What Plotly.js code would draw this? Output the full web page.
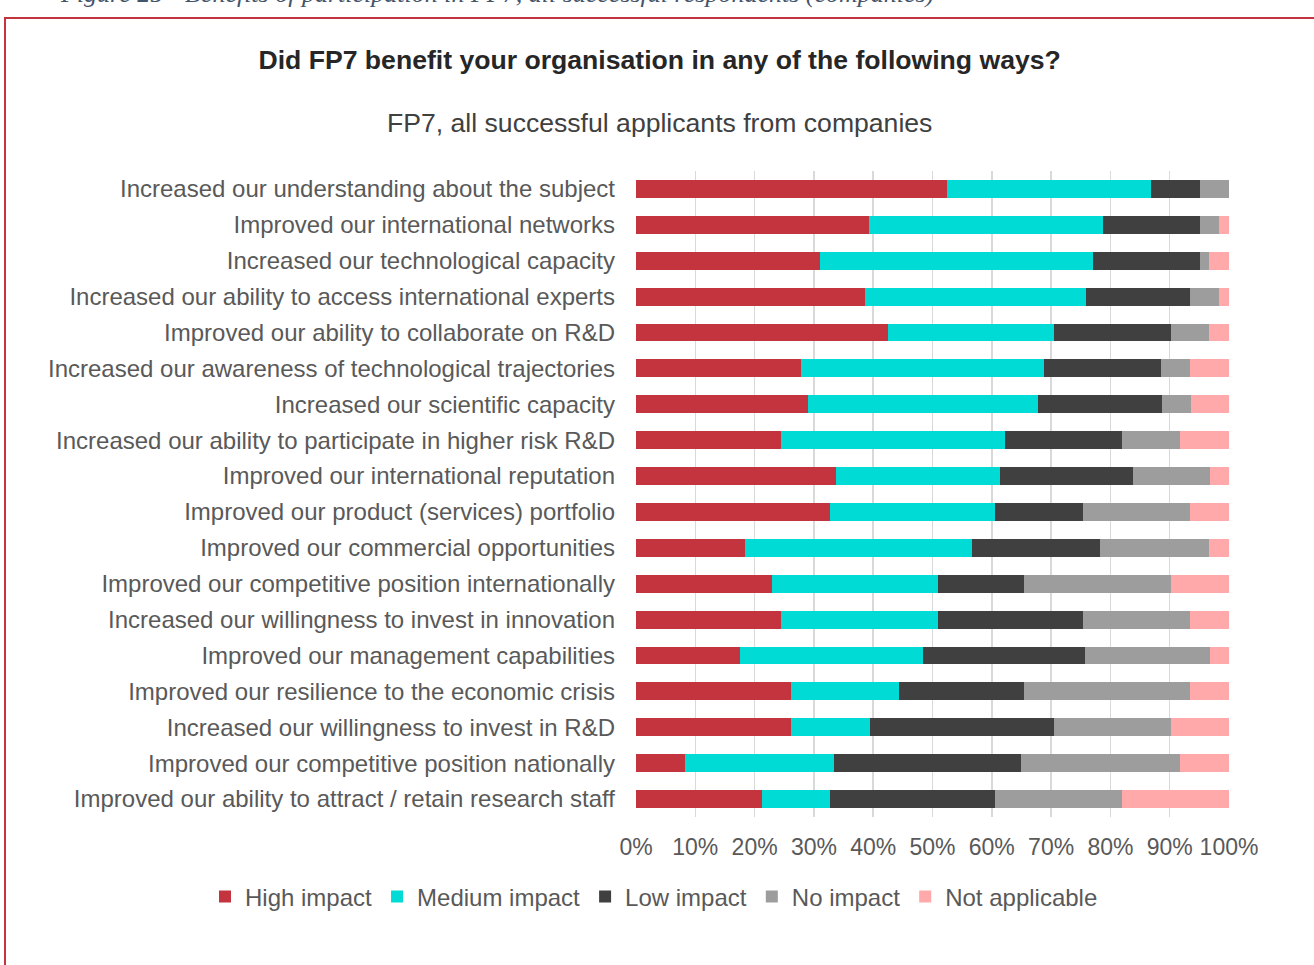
<!DOCTYPE html>
<html>
<head>
<meta charset="utf-8">
<script src="https://cdn.plot.ly/plotly-3.0.1.min.js"></script>
<style>
  html, body { margin: 0; padding: 0; background: #fff; overflow: hidden; }
  #frame { position: absolute; left: 4px; top: 17px; width: 1400px; height: 1100px; border: 2px solid #C4343F; box-sizing: border-box; }
  #chart { position: absolute; left: 0; top: 0; width: 1314px; height: 965px; }
</style>
</head>
<body>
<div id="frame"></div>
<div id="chart"></div>
<script>
const categories = [
  "Increased our understanding about the subject",
  "Improved our international networks",
  "Increased our technological capacity",
  "Increased our ability to access international experts",
  "Improved our ability to collaborate on R&D",
  "Increased our awareness of technological trajectories",
  "Increased our scientific capacity",
  "Increased our ability to participate in higher risk R&D",
  "Improved our international reputation",
  "Improved our product (services) portfolio",
  "Improved our commercial opportunities",
  "Improved our competitive position internationally",
  "Increased our willingness to invest in innovation",
  "Improved our management capabilities",
  "Improved our resilience to the economic crisis",
  "Increased our willingness to invest in R&D",
  "Improved our competitive position nationally",
  "Improved our ability to attract / retain research staff"
];
const highImpact   = [52.5, 39.3, 31.1, 38.7, 42.5, 27.9, 29.0, 24.5, 33.8, 32.7, 18.3, 22.9, 24.5, 17.6, 26.1, 26.1,  8.3, 21.3];
const mediumImpact = [34.4, 39.5, 46.0, 37.2, 28.0, 40.9, 38.8, 37.8, 27.5, 27.9, 38.4, 28.0, 26.4, 30.8, 18.2, 13.3, 25.1, 11.4];
const lowImpact    = [ 8.2, 16.3, 18.0, 17.6, 19.7, 19.7, 20.9, 19.7, 22.5, 14.8, 21.6, 14.6, 24.5, 27.3, 21.2, 31.1, 31.5, 27.8];
const noImpact     = [ 4.9,  3.2,  1.6,  4.8,  6.5,  5.0,  4.9,  9.7, 13.0, 18.1, 18.4, 24.7, 18.1, 21.1, 28.0, 19.7, 26.8, 21.5];
const notApplicable= [ 0.0,  1.7,  3.3,  1.7,  3.3,  6.5,  6.4,  8.3,  3.2,  6.5,  3.3,  9.8,  6.5,  3.2,  6.5,  9.8,  8.3, 18.0];
const seriesNames = ["High impact", "Medium impact", "Low impact", "No impact", "Not applicable"];
const xTickVals = [0,10,20,30,40,50,60,70,80,90,100];
const xTickText = ["0%","10%","20%","30%","40%","50%","60%","70%","80%","90%","100%"];

const colors = ["#C4343F", "#00DBD6", "#404040", "#9D9D9D", "#FFA9AB"];
const seriesData = [highImpact, mediumImpact, lowImpact, noImpact, notApplicable];

const traces = seriesData.map((vals, i) => ({
  type: "bar",
  orientation: "h",
  name: seriesNames[i],
  y: categories,
  x: vals,
  marker: { color: colors[i], line: { width: 0 } },
  hoverinfo: "x+y+name"
}));

const layout = {
  width: 1314,
  height: 965,
  paper_bgcolor: "rgba(0,0,0,0)",
  plot_bgcolor: "rgba(0,0,0,0)",
  barmode: "stack",
  bargap: 0.5,
  margin: { l: 636, r: 85, t: 171, b: 148, autoexpand: false },
  font: { family: "Liberation Sans, Arial, sans-serif", color: "#595959", size: 24 },
  title: {
    text: "<b>Did FP7 benefit your organisation in any of the following ways?</b>",
    xref: "container", x: 0.502, xanchor: "center",
    yref: "container", y: 1 - 60/965, yanchor: "middle",
    font: { size: 26.6, color: "#262626", family: "Liberation Sans, Arial, sans-serif" }
  },
  annotations: [
    {
      text: "FP7, all successful applicants from companies",
      xref: "paper", yref: "paper",
      x: (659 - 636) / 593, y: (817 - 123) / 646,
      xanchor: "center", yanchor: "middle",
      showarrow: false,
      font: { size: 26.6, color: "#404040" }
    },
    {
      text: "Figure 25 - Benefits of participation in FP7, all successful respondents (companies)",
      xref: "paper", yref: "paper",
      x: (497 - 636) / 593, y: (817 - 10) / 646,
      xanchor: "center", yanchor: "bottom",
      showarrow: false,
      font: { size: 26, color: "#44546A", family: "Liberation Serif, Times New Roman, serif", style: "italic" }
    }
  ],
  xaxis: {
    range: [0, 100],
    tickvals: xTickVals,
    ticktext: xTickText,
    showgrid: true,
    gridcolor: "#D9D9D9",
    gridwidth: 1.5,
    zeroline: false,
    showline: false,
    ticks: "",
    ticklabelstandoff: 14,
    tickfont: { size: 23, color: "#595959" },
    fixedrange: true
  },
  yaxis: {
    type: "category",
    categoryorder: "array",
    categoryarray: categories,
    autorange: "reversed",
    showgrid: false,
    zeroline: false,
    showline: false,
    ticks: "",
    ticklabelstandoff: 20,
    tickfont: { size: 24, color: "#595959" },
    fixedrange: true
  },
  showlegend: true,
  legend: {
    orientation: "h",
    xref: "paper", yref: "paper",
    x: (205 - 636) / 593, xanchor: "left",
    y: (817 - 897) / 646, yanchor: "middle",
    font: { size: 24, color: "#595959" },
    traceorder: "normal",
    itemwidth: 30
  }
};

Plotly.newPlot("chart", traces, layout, { displayModeBar: false, staticPlot: true });
</script>
</body>
</html>
